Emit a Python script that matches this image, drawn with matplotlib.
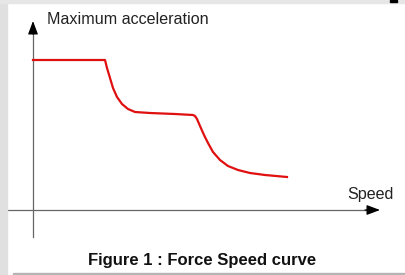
import matplotlib.pyplot as plt
from matplotlib.patches import Rectangle

plt.rcParams['font.family'] = ['Liberation Sans', 'DejaVu Sans']

# values (speed, maximum acceleration), origin at the axes crossing
speed = [0, 72, 74, 77, 80, 84, 89, 95, 102, 117, 142, 160, 162, 164, 167, 171,
         175, 180, 187, 195, 205, 217, 232, 254]
accel = [150, 150, 142, 132, 122, 113, 106, 101, 98, 97, 96, 95, 94, 91, 84, 75,
         67, 58, 50, 44, 40, 37, 35, 33]

y_label = 'Maximum acceleration'
x_label = 'Speed'
caption = 'Figure 1 : Force Speed curve'

fig = plt.figure(figsize=(4.05, 2.75), dpi=100)
fig.patch.set_facecolor('white')

# grey frame of the scanned page
fig.patches.append(Rectangle((0, 0), 7 / 405, 1, transform=fig.transFigure,
                             color='#e0e0e0', zorder=0))
fig.patches.append(Rectangle((0, 1 - 3 / 275), 1, 3 / 275, transform=fig.transFigure,
                             color='#e6e6e6', zorder=0))
fig.patches.append(Rectangle((13 / 405, 0.5 / 275), 1, 1.3 / 275, transform=fig.transFigure,
                             color='#b4b4b4', zorder=0))
fig.patches.append(Rectangle((390 / 405, 1 - 2 / 275), 7 / 405, 2 / 275, transform=fig.transFigure,
                             color='black', zorder=0))

ax = fig.add_axes([0, 0, 1, 1])
ax.set_xlim(-33, 372)
ax.set_ylim(-65, 210)
ax.axis('off')

# axes with arrows
ax.plot([0, 0], [-27, 180], color='#666666', lw=0.9)
ax.plot([-26, 338], [0, 0], color='#666666', lw=0.9)
ax.annotate('', xy=(0, 189), xytext=(0, 176),
            arrowprops=dict(arrowstyle='-|>,head_length=0.8,head_width=0.3',
                            color='black', lw=0.9, shrinkA=0, shrinkB=0))
ax.annotate('', xy=(347, 0), xytext=(332, 0),
            arrowprops=dict(arrowstyle='-|>,head_length=0.8,head_width=0.3',
                            color='black', lw=0.9, shrinkA=0, shrinkB=0))

ax.plot(speed, accel, color='#e01010', lw=1.6, solid_joinstyle='round')

ax.text(14, 190, y_label, fontsize=11.6, color='#222222', ha='left', va='center')
ax.text(314, 15, x_label, fontsize=11.6, color='#222222', ha='left', va='center')
ax.text(169, -50, caption, fontsize=12, fontweight='bold', color='#111111',
        ha='center', va='center')

plt.savefig('out.png', dpi=100)
